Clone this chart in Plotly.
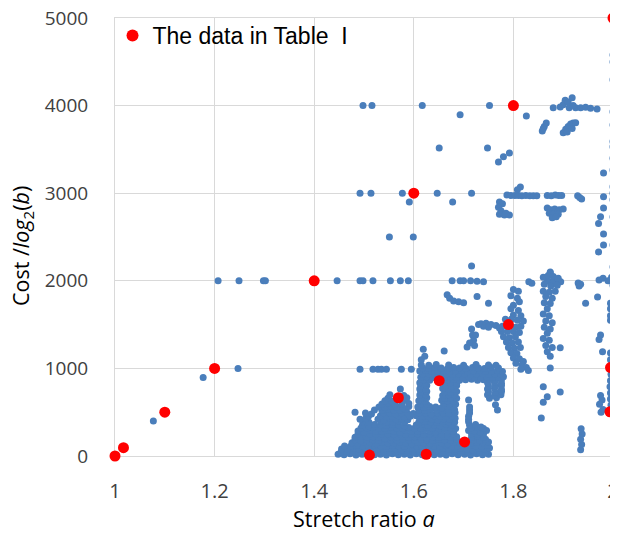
import plotly.graph_objects as go

# ---------------- data ----------------
# Red points: "The data in Table I"
table_x = [1.0, 1.017, 1.1, 1.2, 1.4, 1.6, 1.8, 2.0, 1.79, 1.995, 1.994, 1.569, 1.511, 1.625, 1.651, 1.702]
table_y = [0, 95, 500, 1000, 2000, 3000, 4000, 5000, 1500, 1010, 505, 665, 10, 20, 860, 160]

# Blue points grouped by region (x, y)
blue_sparse = [
    (1.077, 400), (1.177, 895), (1.247, 1000), (1.207, 2000), (1.249, 2000), (1.298, 2000), (1.302, 2000),
    (1.446, 2000), (1.492, 2000), (1.498, 2000), (1.518, 2000), (1.553, 2000), (1.573, 2000), (1.589, 2000),
    (1.677, 2000), (1.693, 2000), (1.700, 2000), (1.714, 2000), (1.727, 1995), (1.740, 1990),
    (1.831, 1990), (1.837, 1972), (1.868, 2000), (1.874, 1990), (1.882, 1995), (1.889, 2005), (1.895, 1990),
    (1.878, 1975), (1.874, 2090), (1.930, 1975), (1.935, 1960), (1.932, 1940),
    (1.972, 2010), (1.980, 2030), (1.990, 2000), (1.997, 2040), (2.000, 1990), (2.000, 1950),
    (1.492, 990), (1.518, 990), (1.528, 990), (1.535, 990), (1.545, 990), (1.575, 990), (1.595, 990),
    (1.551, 2500), (1.599, 2500), (1.716, 2170), (1.874, 2100),
    (1.619, 1220), (1.661, 1200), (1.667, 1840), (1.672, 1800), (1.680, 1770), (1.690, 1760), (1.700, 1750),
    (1.727, 1820), (1.750, 1745),
]

blue_row3000 = [
    (1.492, 3000), (1.514, 3000), (1.577, 3000), (1.647, 3000), (1.716, 3000), (1.591, 2900), (1.678, 2900),
    (1.787, 2980), (1.795, 2975), (1.803, 2975), (1.810, 2975), (1.817, 2970), (1.825, 2975), (1.833, 2970),
    (1.840, 2970), (1.847, 2970), (1.814, 3070), (1.808, 3040),
    (1.772, 2900), (1.778, 2880), (1.770, 2840), (1.775, 2800), (1.772, 2760), (1.782, 2750), (1.792, 2750),
    (1.785, 2770),
    (1.868, 2975), (1.876, 2970), (1.884, 2980), (1.891, 2975), (1.897, 2975),
    (1.929, 2970), (1.933, 2950), (1.937, 2935),
    (1.868, 2830), (1.875, 2810), (1.883, 2820), (1.892, 2810), (1.900, 2820), (1.872, 2770), (1.880, 2760),
    (1.890, 2760), (1.878, 2720), (1.886, 2730),
]

blue_row4000 = [
    (1.498, 4000), (1.516, 4000), (1.617, 4000), (1.693, 3895), (1.752, 4000), (1.826, 3880),
    (1.880, 3975), (1.894, 3985), (1.900, 4010), (1.904, 4060), (1.910, 4040), (1.918, 4090), (1.912, 3975),
    (1.925, 3975), (1.935, 3975), (1.945, 3980), (1.955, 3970), (1.968, 3960), (1.920, 4000),
    (1.858, 3710), (1.862, 3760), (1.866, 3800), (1.860, 3740),
    (1.900, 3690), (1.905, 3730), (1.910, 3760), (1.915, 3790), (1.920, 3800), (1.925, 3805), (1.908, 3700),
    (1.918, 3740),
    (1.651, 3515), (1.748, 3515), (1.770, 3355), (1.780, 3415), (1.792, 3460),
]

blue_right = [
    (2.0, 4580), (2.0, 4500), (2.0, 4295), (2.0, 3930), (2.0, 3780), (2.0, 3590), (2.0, 3530), (2.0, 3400),
    (2.0, 3265), (2.0, 3075), (2.0, 3000), (2.0, 2925), (2.0, 2730), (2.0, 2410), (2.0, 2160),
    (1.981, 3230), (1.981, 2960), (1.981, 2830), (1.975, 2730), (1.971, 2655), (1.981, 2535), (1.981, 2410),
    (1.971, 2330),
    (1.945, 1745), (1.969, 1815), (1.975, 1380), (1.972, 1330), (1.979, 1190),
    (1.995, 1745), (1.995, 1680), (1.995, 1600), (1.995, 1550),
    (1.995, 1175), (1.995, 1100), (1.996, 930), (1.995, 860), (1.994, 790), (1.995, 720), (1.995, 650),
    (1.996, 580),
    (1.975, 690), (1.978, 640), (1.973, 590), (1.980, 530), (1.976, 500),
    (1.935, 70), (1.937, 130), (1.935, 190), (1.938, 250), (1.936, 310),
    (1.894, 1235), (1.874, 1005), (1.860, 790), (1.894, 730), (1.860, 615), (1.868, 675), (1.856, 435),
]

blue_col180 = [
    (1.800, 1900), (1.810, 1880), (1.795, 1830), (1.808, 1800), (1.812, 1760), (1.800, 1720), (1.795, 1680),
    (1.810, 1660), (1.800, 1610), (1.815, 1600), (1.784, 1560), (1.796, 1560), (1.808, 1550), (1.820, 1540),
    (1.778, 1480), (1.805, 1470), (1.815, 1480), (1.776, 1420), (1.788, 1420), (1.800, 1420), (1.812, 1410),
    (1.780, 1360), (1.792, 1350), (1.804, 1360), (1.786, 1300), (1.798, 1290), (1.810, 1300), (1.790, 1240),
    (1.802, 1230), (1.814, 1240), (1.795, 1180), (1.807, 1170), (1.800, 1120), (1.812, 1110), (1.820, 1080),
    (1.805, 1060), (1.817, 1040), (1.826, 1010), (1.815, 990), (1.830, 975),
    (1.735, 1510), (1.745, 1515), (1.755, 1500), (1.765, 1490), (1.772, 1460), (1.740, 1480), (1.750, 1470),
    (1.730, 1500), (1.716, 1450), (1.718, 1380), (1.720, 1320), (1.722, 1260), (1.707, 1245), (1.712, 1290),
    (1.724, 1380),
]

blue_col187 = [
    (1.860, 2040), (1.870, 2060), (1.880, 2050), (1.890, 2030), (1.862, 1960), (1.875, 1940), (1.888, 1950),
    (1.860, 1880), (1.872, 1870), (1.884, 1880), (1.865, 1820), (1.878, 1800), (1.862, 1750), (1.874, 1740),
    (1.868, 1680), (1.860, 1620), (1.872, 1600), (1.865, 1540), (1.878, 1520), (1.862, 1470), (1.874, 1450),
    (1.868, 1400), (1.860, 1340), (1.872, 1320), (1.865, 1260), (1.878, 1240), (1.868, 1190), (1.874, 1140),
]

blue_dense = [
    # y ~ 10-30
    (1.448, 20), (1.460, 15), (1.472, 25), (1.484, 10), (1.496, 20), (1.509, 30), (1.521, 15), (1.533, 20),
    (1.545, 10), (1.557, 25), (1.569, 15), (1.581, 20), (1.593, 10), (1.605, 25), (1.617, 15), (1.629, 30),
    (1.641, 15), (1.653, 20), (1.665, 10), (1.677, 25), (1.689, 15), (1.702, 20), (1.714, 10), (1.726, 25),
    (1.738, 15), (1.750, 20),
    # y ~ 45
    (1.454, 45), (1.466, 50), (1.478, 40), (1.490, 45), (1.502, 50), (1.515, 40), (1.527, 45), (1.539, 50),
    (1.551, 40), (1.563, 45), (1.575, 50), (1.587, 40), (1.599, 45), (1.611, 50), (1.623, 40), (1.635, 45),
    (1.647, 50), (1.659, 40), (1.671, 45), (1.683, 50), (1.695, 40), (1.708, 45), (1.720, 50), (1.732, 40),
    (1.744, 45),
    # y ~ 80
    (1.455, 80), (1.467, 75), (1.479, 85), (1.490, 80), (1.503, 70), (1.515, 85), (1.527, 80), (1.539, 75),
    (1.551, 85), (1.563, 80), (1.575, 70), (1.587, 85), (1.599, 80), (1.611, 75), (1.623, 85), (1.635, 80),
    (1.647, 70), (1.659, 85), (1.671, 80), (1.683, 75), (1.695, 85), (1.707, 80), (1.719, 70), (1.731, 85),
    (1.743, 80), (1.752, 90),
    # y ~ 115
    (1.461, 115), (1.473, 110), (1.485, 120), (1.497, 115), (1.509, 110), (1.521, 120), (1.533, 115),
    (1.545, 110), (1.557, 120), (1.569, 115), (1.581, 110), (1.593, 120), (1.605, 115), (1.617, 110),
    (1.629, 120), (1.641, 115), (1.653, 110), (1.665, 120), (1.677, 115), (1.689, 110), (1.713, 120),
    (1.725, 115), (1.737, 110), (1.748, 120),
    # y ~ 150
    (1.476, 150), (1.488, 145), (1.500, 155), (1.512, 150), (1.524, 140), (1.536, 155), (1.548, 150),
    (1.560, 145), (1.572, 155), (1.584, 150), (1.596, 140), (1.608, 155), (1.620, 150), (1.632, 145),
    (1.644, 155), (1.656, 150), (1.668, 140), (1.680, 155), (1.692, 150), (1.715, 145), (1.727, 155),
    (1.739, 150), (1.750, 160),
    # y ~ 185
    (1.482, 185), (1.494, 180), (1.506, 190), (1.518, 185), (1.530, 180), (1.542, 190), (1.554, 185),
    (1.566, 180), (1.578, 190), (1.590, 185), (1.602, 180), (1.614, 190), (1.626, 185), (1.638, 180),
    (1.650, 190), (1.662, 185), (1.674, 180), (1.686, 190), (1.720, 185), (1.732, 180), (1.744, 190),
    # y ~ 215
    (1.482, 215), (1.494, 225), (1.506, 210), (1.518, 220), (1.530, 215), (1.542, 205), (1.554, 220),
    (1.566, 215), (1.578, 225), (1.590, 210), (1.602, 220), (1.614, 215), (1.626, 205), (1.638, 220),
    (1.650, 215), (1.662, 225), (1.674, 210), (1.686, 220), (1.716, 215), (1.728, 225), (1.740, 210),
    # y ~ 250
    (1.488, 250), (1.500, 255), (1.512, 245), (1.524, 250), (1.536, 255), (1.548, 245), (1.560, 250),
    (1.572, 255), (1.584, 245), (1.596, 250), (1.608, 255), (1.620, 245), (1.632, 250), (1.644, 255),
    (1.656, 245), (1.668, 250), (1.680, 255), (1.716, 250), (1.728, 245), (1.740, 255),
    # y ~ 285
    (1.488, 285), (1.500, 275), (1.512, 290), (1.524, 285), (1.536, 280), (1.548, 290), (1.560, 285),
    (1.572, 275), (1.584, 290), (1.596, 285), (1.608, 280), (1.620, 290), (1.632, 285), (1.644, 275),
    (1.656, 290), (1.668, 285), (1.680, 280), (1.710, 290), (1.722, 285), (1.734, 275), (1.746, 290),
    # y ~ 320
    (1.494, 320), (1.506, 315), (1.518, 325), (1.530, 320), (1.542, 315), (1.554, 325), (1.566, 320),
    (1.578, 315), (1.590, 325), (1.602, 320), (1.614, 315), (1.626, 325), (1.638, 320), (1.650, 315),
    (1.662, 325), (1.674, 320), (1.684, 315), (1.716, 320), (1.728, 325), (1.740, 315),
    # y ~ 355
    (1.497, 355), (1.509, 345), (1.521, 360), (1.533, 355), (1.545, 350), (1.557, 360), (1.569, 355),
    (1.581, 345), (1.605, 355), (1.617, 360), (1.629, 350), (1.641, 355), (1.653, 345), (1.665, 360),
    (1.677, 355), (1.712, 350), (1.724, 360), (1.735, 330),
    # y ~ 390
    (1.498, 390), (1.510, 385), (1.534, 395), (1.546, 390), (1.558, 385), (1.570, 395), (1.582, 390),
    (1.610, 385), (1.622, 395), (1.634, 390), (1.646, 385), (1.658, 395), (1.670, 390), (1.682, 385),
    (1.710, 390),
    # y ~ 420
    (1.492, 420), (1.504, 430), (1.528, 420), (1.540, 415), (1.552, 430), (1.564, 420), (1.576, 425),
    (1.588, 415), (1.612, 420), (1.624, 430), (1.636, 420), (1.648, 415), (1.660, 425), (1.672, 420),
    (1.683, 430), (1.710, 420),
    # y ~ 455
    (1.509, 455), (1.533, 460), (1.545, 450), (1.557, 455), (1.569, 460), (1.581, 450), (1.593, 455),
    (1.605, 460), (1.617, 450), (1.629, 455), (1.641, 460), (1.653, 450), (1.665, 455), (1.677, 460),
    (1.710, 455),
    # y ~ 490
    (1.482, 500), (1.503, 490), (1.515, 480), (1.539, 495), (1.551, 490), (1.563, 480), (1.575, 495),
    (1.587, 490), (1.599, 485), (1.611, 495), (1.623, 490), (1.635, 480), (1.647, 495), (1.659, 490),
    (1.671, 485), (1.683, 495), (1.712, 490),
    # y ~ 525
    (1.521, 525), (1.536, 520), (1.548, 530), (1.560, 525), (1.572, 520), (1.584, 530), (1.610, 525),
    (1.622, 520), (1.634, 530), (1.646, 525), (1.658, 520), (1.670, 530), (1.682, 525), (1.712, 525),
    # y ~ 560
    (1.530, 560), (1.542, 555), (1.554, 565), (1.566, 560), (1.578, 550), (1.590, 565), (1.608, 560),
    (1.620, 555), (1.632, 565), (1.644, 560), (1.656, 550), (1.668, 565), (1.680, 560), (1.712, 560),
    (1.764, 585), (1.768, 525),
    # y ~ 595
    (1.536, 595), (1.548, 600), (1.562, 590), (1.576, 595), (1.590, 600), (1.614, 595), (1.626, 590),
    (1.660, 600), (1.672, 595), (1.684, 590),
    # y ~ 630
    (1.542, 630), (1.556, 625), (1.584, 635), (1.610, 630), (1.622, 625), (1.656, 635), (1.668, 630),
    (1.680, 625), (1.710, 640),
    # y ~ 660
    (1.548, 660), (1.586, 665), (1.614, 660), (1.626, 665), (1.662, 660), (1.674, 665), (1.686, 660),
    (1.752, 660), (1.766, 665),
    # y ~ 695
    (1.552, 700), (1.580, 690), (1.612, 695), (1.624, 700), (1.658, 690), (1.670, 700), (1.682, 695),
    (1.748, 700), (1.762, 690), (1.775, 700),
    # y ~ 730
    (1.614, 730), (1.626, 735), (1.662, 730), (1.674, 725), (1.686, 735), (1.750, 730), (1.764, 725),
    (1.776, 735),
    # y ~ 765
    (1.573, 765), (1.612, 765), (1.624, 760), (1.658, 770), (1.670, 765), (1.682, 760), (1.748, 765),
    (1.762, 770), (1.776, 760),
    # y ~ 800
    (1.614, 800), (1.626, 805), (1.664, 800), (1.676, 795), (1.686, 805), (1.750, 800), (1.764, 795),
    (1.776, 805),
    # y ~ 835
    (1.612, 835), (1.624, 830), (1.662, 840), (1.674, 835), (1.686, 830), (1.748, 835), (1.762, 840),
    (1.776, 830),
    # y ~ 870
    (1.620, 870), (1.632, 865), (1.668, 870), (1.680, 875), (1.692, 865), (1.704, 870), (1.716, 875),
    (1.728, 865), (1.740, 870), (1.752, 875), (1.764, 865), (1.776, 870),
    # y ~ 900
    (1.614, 900), (1.626, 905), (1.638, 895), (1.662, 900), (1.674, 905), (1.686, 895), (1.698, 900),
    (1.710, 905), (1.722, 895), (1.734, 900), (1.746, 905), (1.758, 895), (1.770, 900), (1.780, 905),
    # y ~ 935
    (1.618, 935), (1.630, 940), (1.642, 930), (1.654, 935), (1.666, 940), (1.678, 930), (1.690, 935),
    (1.702, 940), (1.714, 930), (1.726, 935), (1.738, 940), (1.750, 930), (1.762, 935), (1.774, 940),
    # y ~ 970
    (1.612, 970), (1.624, 975), (1.636, 965), (1.648, 970), (1.660, 975), (1.672, 965), (1.684, 970),
    (1.696, 975), (1.708, 965), (1.720, 970), (1.732, 975), (1.744, 965), (1.756, 970), (1.768, 975),
    (1.778, 965),
    # y ~ 1005
    (1.618, 1005), (1.630, 1000), (1.642, 1010), (1.655, 1005), (1.668, 1000), (1.680, 1010), (1.692, 1005),
    (1.705, 1000), (1.718, 1010), (1.730, 1005), (1.742, 1000), (1.755, 1010), (1.770, 1005),
    # y ~ 1040+
    (1.615, 1040), (1.630, 1035), (1.645, 1045), (1.670, 1040), (1.700, 1035), (1.725, 1045), (1.750, 1040),
    (1.765, 1035), (1.615, 1100), (1.622, 1140),
]

blue_groups = [blue_sparse, blue_row3000, blue_row4000, blue_right, blue_col180, blue_col187, blue_dense]
blue_x = [p[0] for g in blue_groups for p in g]
blue_y = [p[1] for g in blue_groups for p in g]

x_ticks = [1, 1.2, 1.4, 1.6, 1.8, 2]
x_ticklabels = ["1", "1.2", "1.4", "1.6", "1.8", "2"]
y_ticks = [0, 1000, 2000, 3000, 4000, 5000]
y_ticklabels = ["0", "1000", "2000", "3000", "4000", "5000"]

BLUE = "#4A7EBB"
RED = "#FF0000"
GRID = "#D9D9D9"
FONT = "Open Sans"

fig = go.Figure()
fig.add_trace(go.Scatter(
    x=blue_x, y=blue_y, mode="markers", showlegend=False, cliponaxis=False,
    marker=dict(color=BLUE, size=7, line=dict(width=0)),
))
fig.add_trace(go.Scatter(
    x=table_x, y=table_y, mode="markers", name="The data in Table  I", cliponaxis=False,
    marker=dict(color=RED, size=11, line=dict(width=0)),
))

axis_common = dict(showgrid=True, gridcolor=GRID, gridwidth=1, zeroline=False,
                   showline=True, linecolor=GRID, linewidth=1, mirror=True,
                   ticks="", layer="below traces", ticklabeloverflow="allow", automargin=False)

# The page body adds an 8 px offset, so the figure is sized to fit inside the 618x536 window.
fig.update_layout(
    width=610, height=528,
    margin=dict(l=107, r=5, t=10, b=80),
    paper_bgcolor="white", plot_bgcolor="white",
    font=dict(family=FONT, size=20, color="#404040"),
    legend=dict(x=-0.005, y=1.009, xanchor="left", yanchor="top", bgcolor="rgba(0,0,0,0)",
                font=dict(family="Liberation Sans", size=23, color="#000000"),
                itemsizing="constant", borderwidth=0),
    xaxis=dict(range=[1, 2], tickvals=x_ticks, ticktext=x_ticklabels, ticklabelstandoff=17,
               tickfont=dict(family=FONT, size=20, color="#404040"), **axis_common),
    yaxis=dict(range=[0, 5000], tickvals=y_ticks, ticktext=y_ticklabels, ticklabelstandoff=22,
               tickfont=dict(family=FONT, size=19, color="#404040"), **axis_common),
    annotations=[
        dict(text="Stretch ratio <i>a</i>", xref="paper", yref="paper", x=0.5, y=(456 - 518) / 438,
             xanchor="center", yanchor="middle", showarrow=False,
             font=dict(family=FONT, size=21.5, color="#000000")),
        dict(text="Cost /<i>log</i><sub>2</sub>(<i>b</i>)", xref="paper", yref="paper",
             x=(22 - 115) / 498, y=(456 - 246) / 438, textangle=-90,
             xanchor="center", yanchor="middle", showarrow=False,
             font=dict(family=FONT, size=21.5, color="#000000")),
    ],
)

fig.write_html("out.html")
